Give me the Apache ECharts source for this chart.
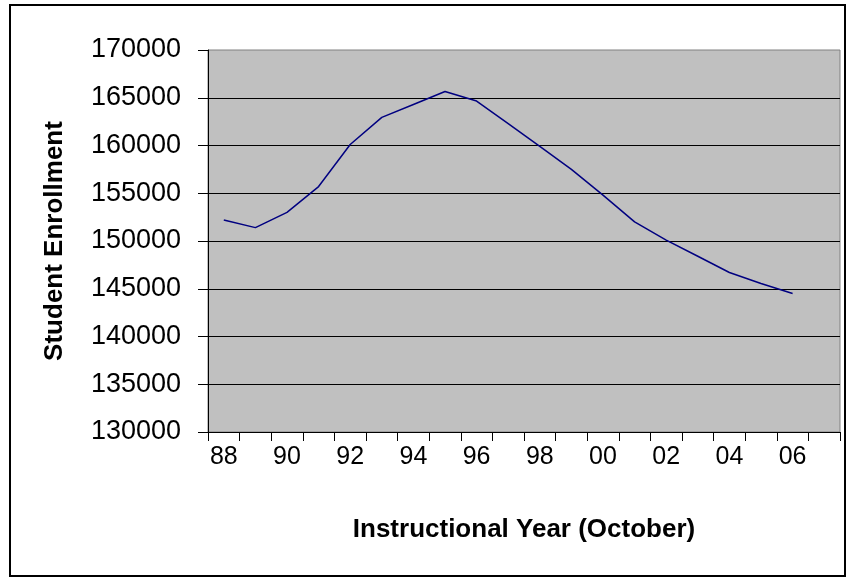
<!DOCTYPE html>
<html>
<head>
<meta charset="utf-8">
<script src="https://cdn.jsdelivr.net/npm/echarts@6/dist/echarts.min.js"></script>
<style>
  html, body { margin: 0; padding: 0; background: #fff; }
  #chart { width: 846px; height: 578px; }
</style>
</head>
<body>
<div id="chart"></div>
<script>
// school years, October count
var years = ['88', '89', '90', '91', '92', '93', '94', '95', '96', '97',
             '98', '99', '00', '01', '02', '03', '04', '05', '06', '07']
var enrollment = [152200, 151400, 153000, 155700, 160100, 162950, 164300, 165650, 164650, 162300,
                  159900, 157500, 154800, 152000, 150100, 148400, 146700, 145550, 144500, null]
var yMin = 130000
var yMax = 170000
var yStep = 5000

var font = 'Liberation Sans'
var chart = echarts.init(document.getElementById('chart'))

chart.setOption({
  animation: false,
  textStyle: { fontFamily: font, color: '#000' },
  graphic: [
    {
      type: 'rect',
      shape: { x: 10, y: 5, width: 835, height: 571 },
      style: { fill: 'none', stroke: '#000', lineWidth: 2 },
      z: 100
    }
  ],
  grid: {
    show: true,
    left: 208,
    right: 6,
    top: 50,
    bottom: 146,
    backgroundColor: '#c0c0c0',
    borderColor: '#808080',
    borderWidth: 1
  },
  xAxis: {
    type: 'category',
    data: years,
    boundaryGap: true,
    name: 'Instructional Year (October)',
    nameLocation: 'middle',
    nameGap: 85,
    nameTextStyle: { fontSize: 26, fontWeight: 'bold', color: '#000', fontFamily: font },
    axisLine: { lineStyle: { color: '#000', width: 1 } },
    axisTick: { show: true, interval: 0, length: 9, lineStyle: { color: '#000' } },
    axisLabel: { interval: 1, margin: 13, fontSize: 25, color: '#000', fontFamily: font },
    splitLine: { show: false }
  },
  yAxis: {
    type: 'value',
    min: yMin,
    max: yMax,
    interval: yStep,
    name: 'Student Enrollment',
    nameLocation: 'middle',
    nameGap: 140,
    nameTextStyle: { fontSize: 26, fontWeight: 'bold', color: '#000', fontFamily: font },
    axisLine: { show: true, lineStyle: { color: '#000', width: 1 } },
    axisTick: { show: true, length: 10, lineStyle: { color: '#000' } },
    axisLabel: {
      margin: 27,
      fontSize: 27,
      color: '#000',
      fontFamily: font,
      formatter: function (v) { return String(v) }
    },
    splitLine: { show: true, showMinLine: false, showMaxLine: false, lineStyle: { color: '#000', width: 1 } }
  },
  series: [
    {
      type: 'line',
      data: enrollment,
      symbol: 'none',
      lineStyle: { color: '#000080', width: 1.5 }
    }
  ]
})
</script>
</body>
</html>
